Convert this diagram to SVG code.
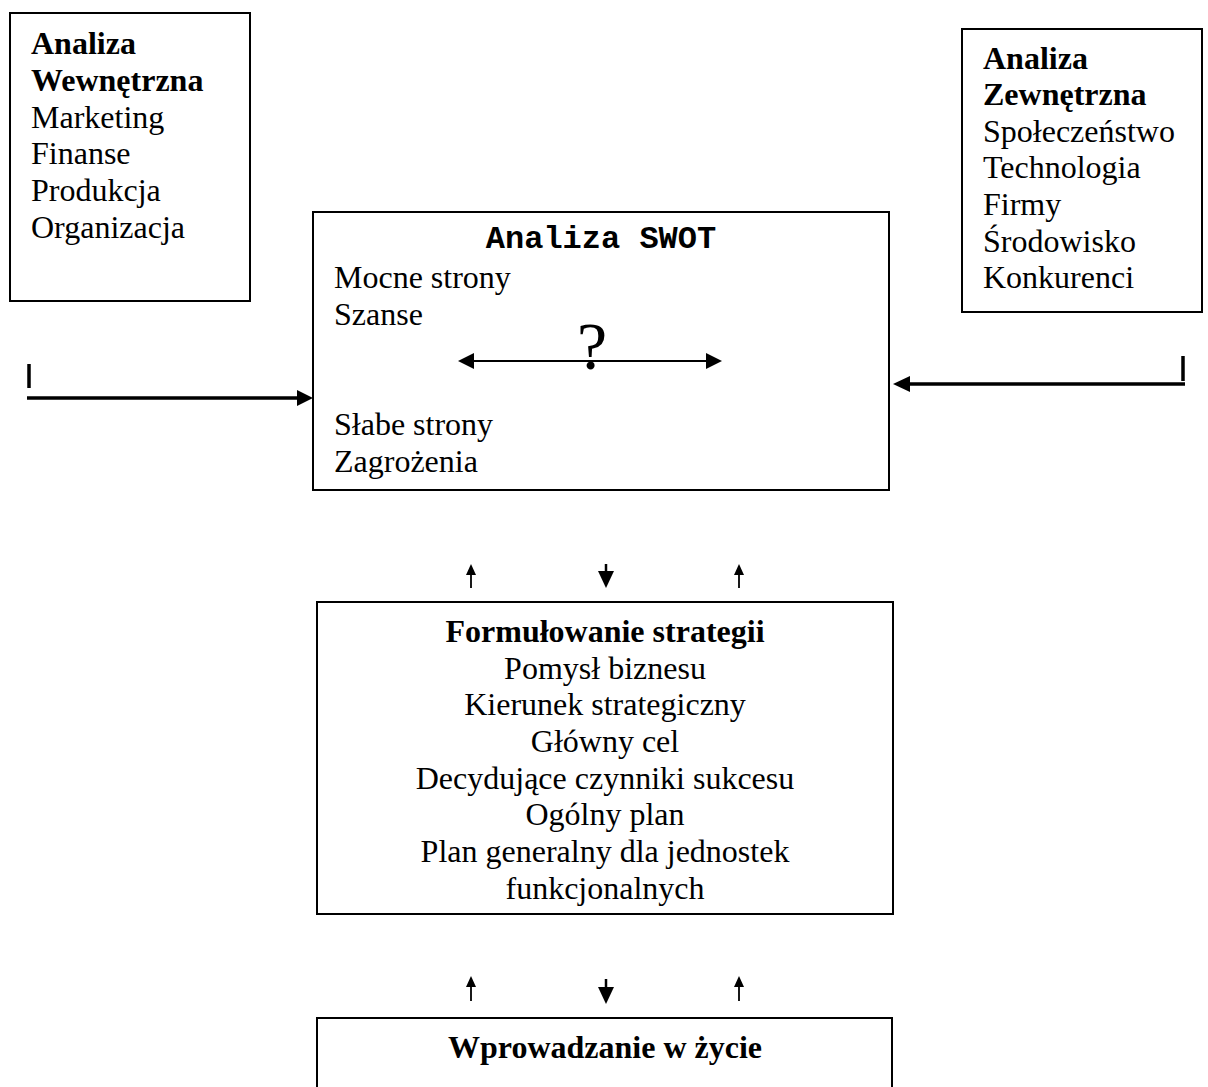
<svg xmlns="http://www.w3.org/2000/svg" width="1208" height="1087" viewBox="0 0 1208 1087">
<style>
.box{fill:#fff;stroke:#000;stroke-width:2}
.t{font-family:"Liberation Serif","Times New Roman",serif;font-size:32px;fill:#000}
.b{font-weight:bold}
.m{font-family:"Liberation Mono","Courier New",monospace;font-size:32px;font-weight:bold;fill:#000}
.c{text-anchor:middle}
.ln{stroke:#000;fill:none}
.hd{fill:#000;stroke:none}
</style>
<rect width="1208" height="1087" fill="#fff"/>
<g id="node-internal">
<rect class="box" x="10" y="13" width="240" height="288"/>
<text class="t b" x="31" y="54">Analiza</text>
<text class="t b" x="31" y="91">Wewnętrzna</text>
<text class="t" x="31" y="128">Marketing</text>
<text class="t" x="31" y="164">Finanse</text>
<text class="t" x="31" y="201">Produkcja</text>
<text class="t" x="31" y="238">Organizacja</text>
</g>
<g id="node-external">
<rect class="box" x="962" y="29" width="240" height="283"/>
<text class="t b" x="983" y="69">Analiza</text>
<text class="t b" x="983" y="105">Zewnętrzna</text>
<text class="t" x="983" y="142">Społeczeństwo</text>
<text class="t" x="983" y="178">Technologia</text>
<text class="t" x="983" y="215">Firmy</text>
<text class="t" x="983" y="252">Środowisko</text>
<text class="t" x="983" y="288">Konkurenci</text>
</g>
<g id="node-swot">
<rect class="box" x="313" y="212" width="576" height="278"/>
<text class="m c" x="601" y="248">Analiza SWOT</text>
<text class="t" x="334" y="288">Mocne strony</text>
<text class="t" x="334" y="325">Szanse</text>
<text class="t" x="334" y="435">Słabe strony</text>
<text class="t" x="334" y="472">Zagrożenia</text>
<line class="ln" x1="472" y1="361" x2="708" y2="361" stroke-width="2"/>
<polygon class="hd" points="458,361 474,353 474,369"/>
<polygon class="hd" points="722,361 706,353 706,369"/>
<text class="t c" x="592" y="369" style="font-size:68px">?</text>
</g>
<g id="node-strategy">
<rect class="box" x="317" y="602" width="576" height="312"/>
<text class="t b c" x="605" y="642">Formułowanie strategii</text>
<text class="t c" x="605" y="679">Pomysł biznesu</text>
<text class="t c" x="605" y="715">Kierunek strategiczny</text>
<text class="t c" x="605" y="752">Główny cel</text>
<text class="t c" x="605" y="789">Decydujące czynniki sukcesu</text>
<text class="t c" x="605" y="825">Ogólny plan</text>
<text class="t c" x="605" y="862">Plan generalny dla jednostek</text>
<text class="t c" x="605" y="899">funkcjonalnych</text>
</g>
<g id="node-implementation">
<path class="box" d="M317,1100 V1018 H892 V1100"/>
<text class="t b c" x="605" y="1058">Wprowadzanie w życie</text>
</g>
<g id="connectors">
<line class="ln" x1="29" y1="364" x2="29" y2="388" stroke-width="3.5"/>
<line class="ln" x1="27" y1="398" x2="300" y2="398" stroke-width="3.5"/>
<polygon class="hd" points="313,398 297,390 297,406"/>
<line class="ln" x1="1183" y1="356" x2="1183" y2="381" stroke-width="3.5"/>
<line class="ln" x1="1185" y1="384" x2="906" y2="384" stroke-width="3.5"/>
<polygon class="hd" points="893,384 910,376 910,392"/>
<line class="ln" x1="471" y1="588" x2="471" y2="572" stroke-width="1.8"/>
<polygon class="hd" points="471,564 466,575 476,575"/>
<line class="ln" x1="606" y1="564" x2="606" y2="575" stroke-width="2.5"/>
<polygon class="hd" points="606,588 598,571 614,571"/>
<line class="ln" x1="739" y1="588" x2="739" y2="572" stroke-width="1.8"/>
<polygon class="hd" points="739,564 734,575 744,575"/>
<line class="ln" x1="471" y1="1001" x2="471" y2="984" stroke-width="1.8"/>
<polygon class="hd" points="471,976 466,987 476,987"/>
<line class="ln" x1="606" y1="979" x2="606" y2="990" stroke-width="2.5"/>
<polygon class="hd" points="606,1004 598,987 614,987"/>
<line class="ln" x1="739" y1="1001" x2="739" y2="984" stroke-width="1.8"/>
<polygon class="hd" points="739,976 734,987 744,987"/>
</g>
</svg>
